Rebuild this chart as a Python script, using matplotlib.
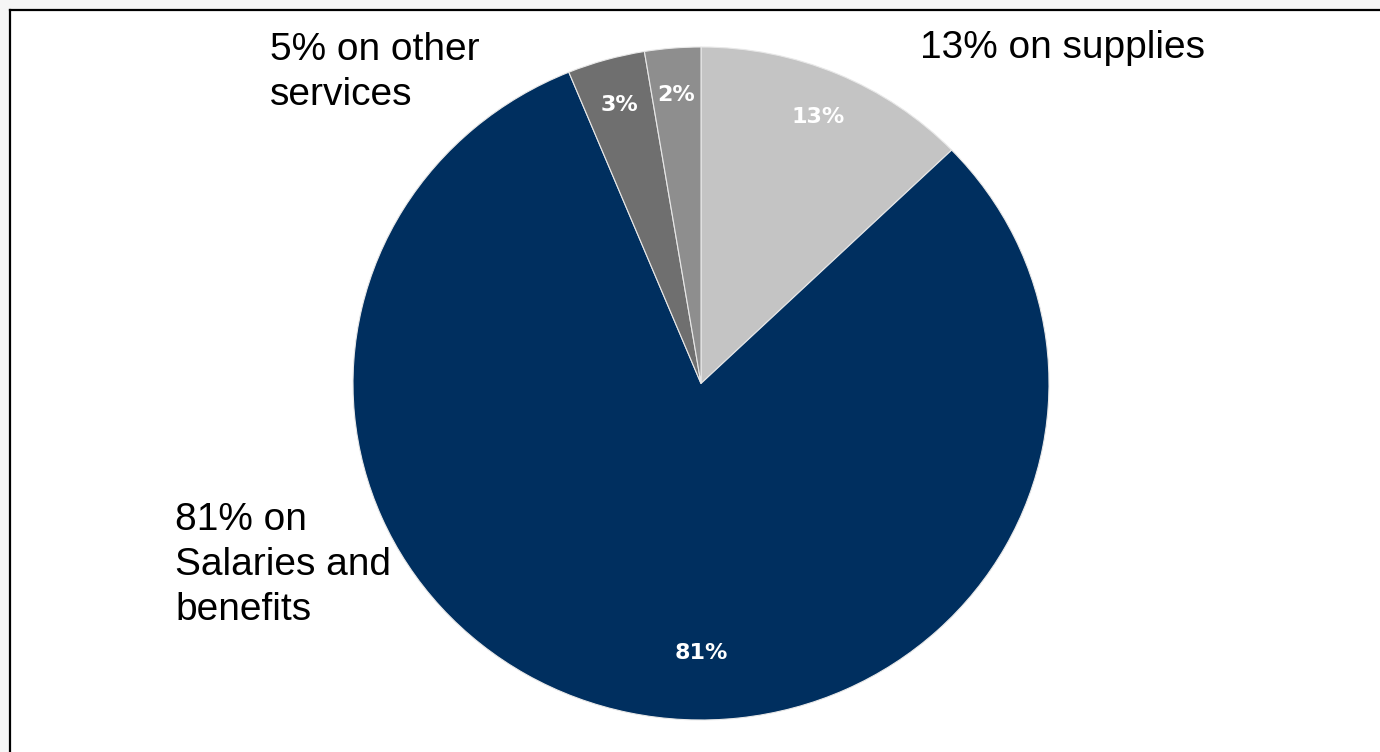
import numpy as np
import matplotlib.pyplot as plt
from matplotlib.patches import Rectangle

# slice shares, clockwise from 12 o'clock
shares = [12.8, 81.0, 3.6, 2.6]
pct_labels = ['13%', '81%', '3%', '2%']
colors = ['#c4c4c4', '#002f5f', '#6f6f6f', '#8e8e8e']

callouts = ['13% on supplies', '81% on\nSalaries and\nbenefits', '5% on other\nservices']

W, H = 1380, 752
fig = plt.figure(figsize=(W / 100, H / 100), dpi=100, facecolor='#f6f6f6')

# white panel with black frame on top and left
fig.patches.append(Rectangle((9.5 / W, 0), 1, 1 - 9.5 / H, transform=fig.transFigure,
                             facecolor='white', edgecolor='none', zorder=-10))
fig.add_artist(plt.Line2D([9.5 / W, 1], [1 - 9.5 / H, 1 - 9.5 / H], transform=fig.transFigure,
                          color='black', lw=1.6))
fig.add_artist(plt.Line2D([9.5 / W, 9.5 / W], [0, 1 - 9.5 / H], transform=fig.transFigure,
                          color='black', lw=1.6))

# pie is slightly wider than tall in the original
left, right, top, bottom = 353, 1049, 47, 720
ax = fig.add_axes([left / W, 1 - bottom / H, (right - left) / W, (bottom - top) / H])
wedges, _ = ax.pie(shares, colors=colors, startangle=90, counterclock=False,
                   wedgeprops=dict(edgecolor='#e8e8e8', linewidth=0.8))
ax.set_aspect('auto')
ax.set_xlim(-1, 1)
ax.set_ylim(-1, 1)
ax.axis('off')

for w, lab in zip(wedges, pct_labels):
    mid = np.deg2rad((w.theta1 + w.theta2) / 2)
    dist = 0.86
    if lab == '81%':
        mid, dist = -np.pi / 2, 0.80
    ax.text(dist * np.cos(mid), dist * np.sin(mid), lab, color='white',
            fontsize=16, fontweight='bold', ha='center', va='center',
            family='DejaVu Sans')

# callout text around the pie (baseline of the last line)
font = dict(fontsize=28, family='Liberation Sans', color='black', linespacing=1.33)
fig.text(920 / W, 1 - 58 / H, callouts[0], ha='left', va='baseline', **font)
fig.text(175 / W, 1 - 620 / H, callouts[1], ha='left', va='baseline', **font)
fig.text(270 / W, 1 - 105 / H, callouts[2], ha='left', va='baseline', **font)

fig.savefig('out.png', dpi=100, facecolor=fig.get_facecolor())
